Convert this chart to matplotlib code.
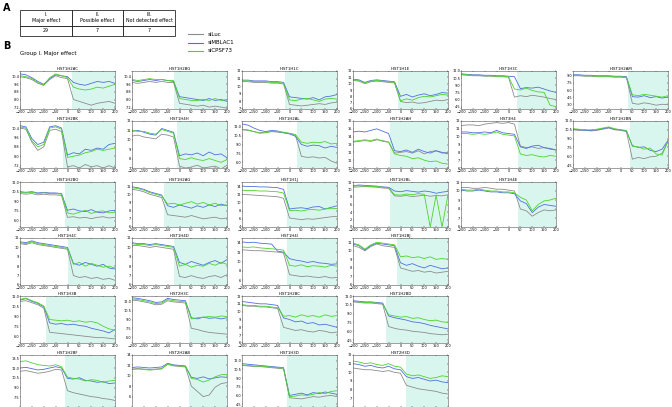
import numpy as np
import matplotlib
matplotlib.use("Agg")
import matplotlib.pyplot as plt

# positions along the gene (every 25)
x = np.arange(-200, 201, 25)

genes = ["HIST1H2AC", "HIST1H2BG", "HIST1H1C", "HIST1H1E", "HIST1H3C", "HIST1H2AM",
         "HIST1H2BK", "HIST1H4H", "HIST1H2AL", "HIST1H2AH", "HIST3H4", "HIST1H2BN",
         "HIST1H2BO", "HIST1H2AG", "HIST1H1J", "HIST1H2BL", "HIST1H4E",
         "HIST1H4C", "HIST1H4D", "HIST1H4I", "HIST1H2BJ",
         "HIST1H3B", "HIST2H3C", "HIST1H2BC", "HIST1H2BD",
         "HIST1H2BF", "HIST2H2AB", "HIST1H3D", "HIST2H3D"]

shade_from = [20, -25, -20, -10, 35, 30,
              -20, -10, 30, -45, 40, 40,
              -10, -65, -10, -45, 40,
              0, -25, -10, -15,
              -90, 40, -40, -60,
              -10, 40, -10, 25]

ylims = [(7, 11), (7, 11), (7, 12), (6, 12), (4, 12), (2, 10),
         (7, 11), (7, 12), (5, 13), (10, 16), (6, 12), (4, 12),
         (5, 12), (6, 11.5), (4, 15), (0, 12), (6, 11),
         (6, 11), (6, 11), (5, 15), (6, 11.5),
         (5, 12), (5, 13), (6, 12), (4, 12),
         (6, 14), (4, 14), (4, 13), (6, 12)]

siluc = [
    [10.4,10.3,10.1,9.7,9.5,10.1,10.5,10.3,10.2,8.0,7.8,7.6,7.4,7.6,7.7,7.8,7.6],
    [9.8,9.7,9.8,9.9,9.8,9.9,9.8,9.8,7.6,7.5,7.4,7.3,7.4,7.2,7.3,7.2,7.1],
    [10.6,10.6,10.5,10.5,10.5,10.4,10.4,10.3,7.6,7.5,7.4,7.5,7.6,7.7,7.6,7.8,7.9],
    [10.5,10.4,10.0,10.3,10.4,10.3,10.2,10.1,7.2,7.0,7.1,6.9,7.0,7.2,7.4,7.3,7.5],
    [11.2,11.1,11.0,11.0,10.9,10.9,10.8,10.8,10.7,6.5,6.8,6.6,6.9,6.7,6.5,6.2,6.0],
    [9.0,9.0,8.9,8.9,8.8,8.8,8.8,8.7,8.7,8.6,3.2,3.0,3.3,3.1,2.8,3.0,2.9],
    [10.4,10.3,9.2,8.5,8.8,10.2,10.3,10.1,7.1,7.2,7.0,7.3,7.1,7.2,7.0,7.2,7.0],
    [10.4,10.5,10.3,10.2,10.1,10.6,10.5,10.3,7.2,7.0,7.1,7.3,7.0,7.1,7.2,6.9,7.3],
    [11.5,11.4,11.2,11.0,11.1,11.2,11.1,11.0,10.9,10.6,7.0,6.8,6.9,6.7,6.8,6.2,5.8],
    [13.3,13.4,13.5,13.4,13.6,13.5,13.3,11.9,12.0,12.1,11.9,12.2,11.8,12.1,12.2,11.9,12.0],
    [11.4,11.5,11.5,11.4,11.6,11.7,11.8,11.7,11.8,11.6,8.8,8.6,8.7,8.5,8.6,8.4,8.3],
    [10.5,10.4,10.5,10.3,10.4,10.6,10.8,10.5,10.4,10.2,5.5,5.8,5.6,5.9,6.0,6.5,8.5],
    [10.2,10.1,10.2,10.0,10.1,10.0,10.0,9.9,6.5,6.6,6.4,6.5,6.3,6.5,6.6,6.4,6.5],
    [10.6,10.5,10.3,10.0,9.8,9.6,7.5,7.4,7.3,7.2,7.4,7.2,7.0,7.1,7.2,7.0,7.1],
    [12.0,11.9,11.8,11.7,11.6,11.5,11.4,11.0,6.2,6.0,5.8,6.0,5.9,6.1,6.3,6.5,6.6],
    [10.6,10.7,10.8,10.7,10.6,10.4,10.3,8.3,8.2,8.4,8.1,8.3,8.5,8.2,8.4,8.3,8.6],
    [10.4,10.4,10.3,10.3,10.4,10.3,10.2,10.2,10.1,10.0,8.0,7.8,7.2,7.6,7.9,7.8,7.9],
    [10.4,10.3,10.5,10.3,10.2,10.1,10.0,9.9,9.8,7.0,6.8,6.9,6.7,6.8,6.6,6.7,6.5],
    [10.2,10.2,10.1,10.0,10.1,10.0,9.9,9.8,6.9,6.8,7.0,6.8,6.7,6.9,7.0,6.8,7.1],
    [12.5,12.4,12.3,12.3,12.2,12.1,12.0,11.8,7.2,7.0,6.8,6.9,6.7,6.6,6.8,6.5,6.6],
    [10.6,10.4,10.0,10.5,10.8,10.6,10.5,10.4,8.0,7.8,7.6,7.7,7.5,7.6,7.4,7.5,7.6],
    [11.2,11.3,11.0,10.7,10.2,6.6,6.5,6.4,6.3,6.2,6.1,6.0,5.9,5.8,5.8,5.7,5.6],
    [12.3,12.2,12.0,11.8,11.5,11.6,12.2,12.0,11.9,11.8,7.5,7.3,7.0,6.8,6.7,6.6,6.5],
    [10.8,10.7,10.7,10.6,10.6,10.5,10.4,8.0,7.8,7.6,7.7,7.5,7.4,7.6,7.5,7.3,7.4],
    [11.0,10.9,10.8,10.8,10.7,10.6,6.8,6.5,6.3,6.2,6.0,5.9,5.8,5.6,5.5,5.4,5.5],
    [11.5,11.6,11.4,11.2,11.3,11.5,11.8,11.7,8.5,8.2,8.0,7.8,7.6,7.5,7.3,7.2,7.0],
    [11.3,11.4,11.3,11.2,11.3,11.4,12.2,11.9,11.8,11.7,8.0,7.0,6.0,6.3,7.8,8.5,8.7],
    [11.2,11.1,11.0,11.0,10.9,10.8,10.7,10.6,5.6,5.5,5.4,5.6,5.8,5.7,5.9,6.0,5.8],
    [10.5,10.4,10.3,10.3,10.2,10.1,10.2,10.0,9.9,8.5,8.3,8.1,8.0,7.9,7.8,7.6,7.5],
]

simblac1 = [
    [10.7,10.6,10.3,9.9,9.6,10.2,10.6,10.5,10.4,9.8,9.6,9.5,9.7,9.9,9.8,9.9,9.7],
    [10.0,9.9,10.0,10.1,10.0,10.1,10.0,9.9,8.3,8.2,8.1,8.0,7.9,8.1,7.9,8.0,7.8],
    [10.8,10.8,10.7,10.7,10.7,10.6,10.6,10.5,8.6,8.5,8.4,8.3,8.5,8.2,8.6,8.7,8.9],
    [10.7,10.6,10.2,10.5,10.6,10.5,10.4,10.3,8.0,8.3,7.9,8.2,8.4,8.1,8.3,8.6,8.5],
    [11.4,11.3,11.2,11.2,11.1,11.1,11.0,11.0,10.9,10.8,8.3,8.5,8.4,8.6,8.2,7.8,7.5],
    [9.2,9.2,9.1,9.1,9.0,9.0,9.0,8.9,8.9,8.8,4.6,4.5,4.8,4.4,4.6,4.3,4.5],
    [10.6,10.5,9.5,9.0,9.2,10.5,10.6,10.4,8.1,8.3,8.2,8.6,8.5,8.7,8.6,9.0,9.1],
    [10.9,11.0,10.8,10.6,10.5,11.2,11.0,10.8,8.3,8.5,8.4,8.6,8.3,8.7,8.4,8.5,8.1],
    [12.5,12.3,11.8,11.4,11.2,11.4,11.3,11.0,10.8,10.4,9.0,8.7,8.9,8.8,8.4,8.7,8.5],
    [14.6,14.7,14.6,14.8,15.0,14.7,14.4,12.2,12.1,12.3,12.0,12.4,12.1,11.9,12.2,12.0,11.8],
    [10.6,10.6,10.5,10.5,10.6,10.5,10.8,10.5,10.4,10.3,8.7,8.5,8.8,8.9,8.6,8.5,8.3],
    [10.6,10.5,10.4,10.4,10.5,10.7,10.9,10.6,10.5,10.3,7.8,7.5,7.6,7.0,6.8,7.2,8.7],
    [10.5,10.4,10.5,10.3,10.4,10.3,10.3,10.2,7.6,7.8,7.5,7.4,7.7,7.3,7.2,7.5,7.6],
    [10.9,10.8,10.6,10.3,10.1,9.9,8.6,8.4,8.7,8.5,8.3,8.6,8.4,8.7,8.5,8.8,8.6],
    [14.0,13.9,13.9,13.8,13.8,13.7,13.6,13.2,8.4,8.6,8.7,8.5,8.9,9.0,8.4,8.8,9.2],
    [11.0,11.2,11.1,11.0,10.9,10.7,10.6,9.6,9.4,9.7,9.5,9.3,9.6,9.4,9.0,9.3,9.5],
    [10.1,10.0,10.0,10.1,10.0,9.9,9.9,9.8,9.8,9.7,8.9,8.6,7.6,8.2,8.5,8.4,8.3],
    [10.6,10.5,10.7,10.5,10.4,10.3,10.2,10.1,10.0,8.3,8.1,8.4,8.2,8.0,8.2,7.8,7.7],
    [10.5,10.4,10.4,10.3,10.4,10.3,10.2,10.1,8.4,8.2,8.5,8.3,8.1,8.4,8.6,8.3,8.7],
    [14.2,14.0,14.1,13.9,13.8,13.7,12.2,12.0,10.6,10.3,10.1,9.8,10.0,9.7,9.6,9.4,9.5],
    [10.8,10.6,10.1,10.6,10.9,10.8,10.7,10.6,8.6,8.3,8.5,8.2,8.0,8.3,8.1,7.9,8.0],
    [11.4,11.6,11.2,10.9,10.4,8.0,7.8,7.9,7.7,7.8,7.6,7.5,7.2,7.0,6.8,6.5,7.0],
    [12.7,12.6,12.4,12.2,11.9,12.0,12.6,12.4,12.3,12.2,9.3,9.1,9.4,9.2,9.3,9.1,9.3],
    [11.3,11.2,11.1,11.0,11.0,10.9,10.8,9.2,9.0,8.7,8.8,8.5,8.6,8.3,8.4,8.2,8.0],
    [11.2,11.1,11.0,11.0,10.9,10.8,8.6,8.3,8.1,7.9,7.6,7.5,7.3,7.0,6.8,6.6,6.4],
    [12.0,12.1,11.9,11.7,11.8,12.0,12.2,12.0,10.4,10.3,10.5,10.1,10.0,9.8,9.9,9.6,9.7],
    [11.6,11.7,11.6,11.5,11.6,11.7,12.4,12.1,12.0,11.9,9.7,9.5,9.8,9.4,9.6,9.8,9.7],
    [11.5,11.4,11.3,11.2,11.1,11.0,10.9,10.8,6.0,6.2,6.4,6.1,6.5,6.3,6.6,6.4,6.2],
    [11.0,10.9,10.7,10.8,10.6,10.5,10.7,10.4,10.3,9.5,9.3,9.4,9.2,9.0,9.1,8.9,8.8],
]

sicpsf73 = [
    [10.5,10.4,10.2,9.8,9.5,10.3,10.7,10.5,10.3,9.3,9.1,9.0,9.1,9.3,9.2,9.4,9.6],
    [10.1,10.0,10.1,10.2,10.1,10.1,10.0,10.0,8.1,8.0,7.9,7.9,8.0,7.9,8.1,7.9,8.0],
    [10.7,10.7,10.6,10.6,10.6,10.5,10.5,10.4,8.2,8.1,8.3,8.4,8.2,8.0,8.3,8.4,8.3],
    [10.6,10.5,10.1,10.4,10.5,10.4,10.3,10.2,7.3,7.6,7.4,7.8,8.0,7.9,8.1,8.3,8.2],
    [11.3,11.2,11.1,11.1,11.0,11.0,10.9,10.9,10.8,8.2,8.0,8.4,7.9,7.6,7.5,4.8,4.5],
    [9.1,9.1,9.0,9.0,8.9,8.9,8.9,8.8,8.8,8.7,5.0,4.8,5.1,4.9,4.7,4.5,4.8],
    [10.5,10.4,9.3,8.8,9.0,10.4,10.5,10.3,7.9,8.0,8.1,8.3,8.4,8.6,8.5,8.6,8.7],
    [11.0,10.9,10.9,10.7,10.6,11.1,10.9,10.7,8.0,7.9,8.1,7.9,7.8,8.0,7.8,7.6,7.9],
    [11.6,11.5,11.2,10.9,11.0,11.2,11.2,11.1,10.9,10.7,9.4,9.2,9.4,9.3,9.5,9.1,9.2],
    [13.4,13.5,13.6,13.5,13.7,13.4,13.3,11.8,11.6,11.5,11.2,11.3,11.0,10.8,10.9,10.6,10.5],
    [10.4,10.4,10.3,10.4,10.3,10.4,10.6,10.3,10.2,10.1,7.8,7.6,7.7,7.5,7.4,7.6,7.5],
    [10.7,10.6,10.5,10.5,10.6,10.8,11.0,10.7,10.5,10.4,7.7,7.6,7.2,7.4,6.4,6.2,8.6],
    [10.4,10.3,10.4,10.2,10.3,10.2,10.2,10.1,7.2,7.0,7.3,7.6,7.1,7.4,7.5,7.2,7.3],
    [10.8,10.7,10.5,10.2,10.0,9.8,8.8,8.9,8.7,8.9,9.1,8.8,9.0,8.7,8.9,8.6,8.7],
    [13.0,12.9,12.9,12.8,12.8,12.7,12.6,12.3,8.0,8.1,7.9,8.2,8.3,8.1,8.4,8.6,8.5],
    [10.9,11.0,10.9,10.8,10.8,10.6,10.5,8.6,8.5,8.8,8.6,8.9,8.7,0.0,8.5,0.0,8.6],
    [10.2,10.1,10.1,10.2,10.1,10.0,10.0,9.9,9.9,9.8,9.3,9.0,7.8,8.5,8.9,9.0,9.2],
    [10.5,10.4,10.6,10.4,10.3,10.2,10.1,10.0,9.9,8.2,8.4,8.0,8.3,8.1,7.9,8.0,7.8],
    [10.4,10.3,10.3,10.2,10.3,10.2,10.1,10.0,8.0,8.2,7.9,8.1,8.0,8.3,8.1,8.4,8.2],
    [13.1,13.0,13.1,12.9,12.8,12.7,12.6,12.4,9.2,9.0,9.3,8.9,9.1,9.0,8.8,9.2,9.0],
    [10.9,10.7,10.2,10.7,11.0,10.9,10.8,10.7,9.3,9.4,9.2,9.3,9.1,9.3,9.0,9.1,9.0],
    [11.5,11.7,11.3,11.0,10.5,8.5,8.4,8.3,8.4,8.2,8.3,8.1,8.2,8.0,7.5,7.1,6.9],
    [12.5,12.4,12.2,12.0,11.7,11.8,12.4,12.2,12.1,12.0,9.1,9.3,9.4,9.5,9.4,9.6,9.5],
    [10.9,10.8,10.8,10.7,10.7,10.6,10.5,9.4,9.5,9.3,9.6,9.4,9.5,9.3,9.6,9.4,9.5],
    [11.1,11.0,10.9,10.9,10.8,10.7,8.8,8.6,8.4,8.5,8.2,8.3,8.0,7.8,7.9,7.6,7.5],
    [13.0,13.1,12.8,12.5,12.4,12.3,12.5,12.2,10.6,10.4,10.3,10.0,10.2,10.1,9.8,10.0,10.1],
    [11.2,11.3,11.2,11.1,11.2,11.3,12.3,12.0,11.9,11.8,9.5,9.3,8.8,9.2,9.8,10.2,10.3],
    [11.3,11.2,11.1,11.1,11.0,10.9,10.8,10.7,5.8,5.9,6.1,6.0,6.2,6.5,6.3,6.7,6.8],
    [11.3,11.2,11.0,11.1,10.9,10.8,11.0,10.7,10.6,9.8,9.6,9.7,9.5,9.3,9.4,9.6,9.5],
]

table_head = ["I.\nMajor effect", "II.\nPossible effect", "III.\nNot detected effect"]
table_vals = ["29", "7", "7"]
labels = ["siLuc", "siMBLAC1", "siCPSF73"]
colors = ["#8c8c8c", "#4f6fe0", "#4cd42a"]

W, H = 672, 407
fig = plt.figure(figsize=(W / 100, H / 100), dpi=100)

def px_axes(l, t, w, h):
    return fig.add_axes([l / W, 1 - (t + h) / H, w / W, h / H])

# panel A table
fig.text(3 / W, 1 - 8 / H, "A", fontsize=7, fontweight="bold", va="center")
tab = px_axes(20, 10, 155, 26)
tab.axis("off")
t = tab.table(cellText=[table_head, table_vals], cellLoc="center",
              bbox=[0, 0, 1, 1])
t.auto_set_font_size(False)
for (r, c), cell in t.get_celld().items():
    cell.set_fontsize(3.4)
    cell.set_linewidth(0.5)
    cell.set_height(0.6 if r == 0 else 0.4)
    cell.PAD = 0.02

# legend
for i, (lab, col) in enumerate(zip(labels, colors)):
    ly = 1 - (34 + 8.5 * i) / H
    fig.add_artist(plt.Line2D([188 / W, 203 / W], [ly, ly], color=col, lw=0.8))
    fig.text(208 / W, ly, lab, fontsize=4, va="center")

fig.text(3 / W, 1 - 46 / H, "B", fontsize=7, fontweight="bold", va="center")
fig.text(20 / W, 1 - 53 / H, "Group I. Major effect", fontsize=4, va="center")

col_left = [20, 132, 242, 353, 461, 573]
row_top = [71, 121, 182, 238, 296, 355]
row_h = [38, 47, 45, 47, 47, 52]
per_row = [6, 6, 5, 4, 4, 4]

k = 0
for r, n in enumerate(per_row):
    last = r == len(per_row) - 1
    for c in range(n):
        ax = px_axes(col_left[c], row_top[r], 95, row_h[r])
        ax.axvspan(shade_from[k], 200, color="#d9f6ee", lw=0)
        ax.plot(x, siluc[k], color=colors[0], lw=0.6)
        ax.plot(x, simblac1[k], color=colors[1], lw=0.6)
        ax.plot(x, sicpsf73[k], color=colors[2], lw=0.6)
        ax.set_xlim(-200, 200)
        ax.set_ylim(*ylims[k])
        ax.set_xticks(np.arange(-200, 201, 50))
        ax.yaxis.set_major_locator(matplotlib.ticker.MaxNLocator(
            6, prune="lower" if last else None))
        ax.tick_params(labelsize=2.5, length=1, width=0.3, pad=0.5,
                       direction="in", top=True, right=True)
        # bottom row runs off the page in the reference
        if last:
            ax.tick_params(labelbottom=False)
        for s in ax.spines.values():
            s.set_linewidth(0.4)
            s.set_color("#555555")
        ax.set_title(genes[k], fontsize=2.8, pad=1)
        k += 1

fig.savefig("out.png", dpi=100)
